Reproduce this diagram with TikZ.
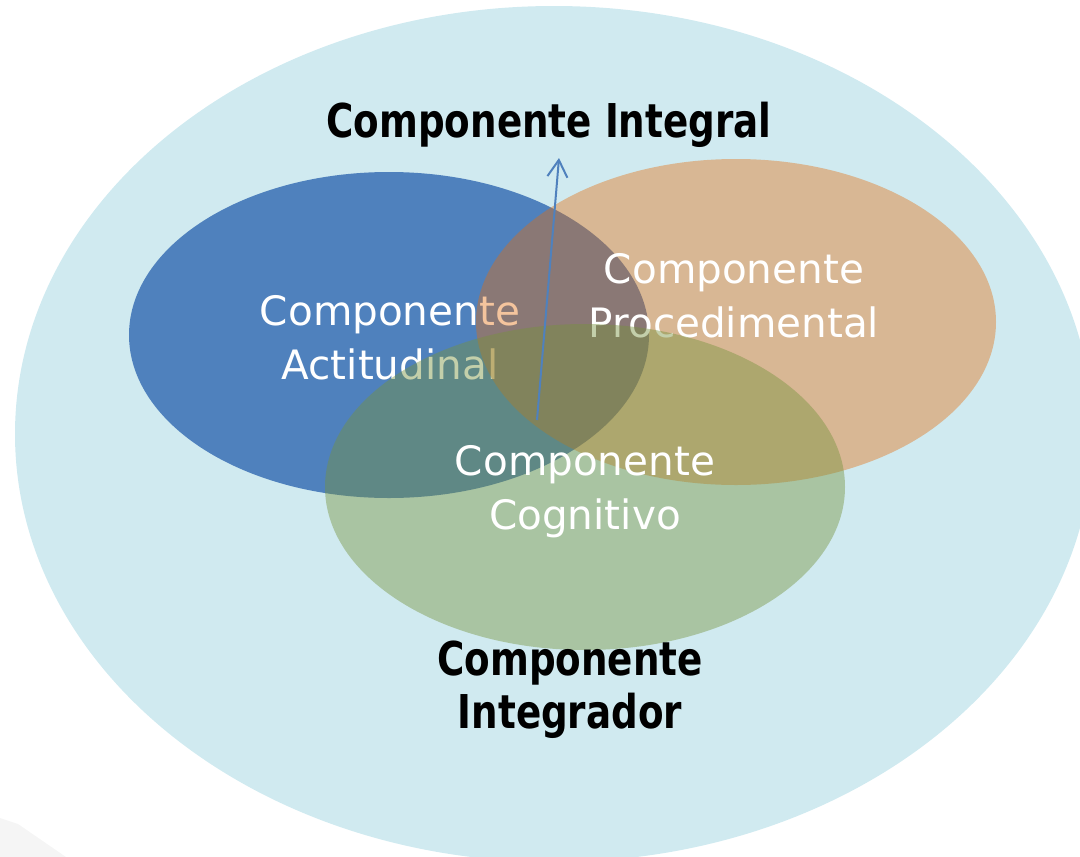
\documentclass[tikz,border=0pt]{standalone}
\usepackage{fontspec}
\setmainfont{DejaVu Sans}
\newfontfamily\titlefont[FakeStretch=0.8]{DejaVu Sans}
\usetikzlibrary{arrows.meta,shapes.geometric}

\definecolor{paleblue}{RGB}{208,234,240}
\definecolor{setblue}{RGB}{79,129,189}
\definecolor{setorange}{RGB}{228,108,10}
\definecolor{setgreen}{RGB}{118,146,60}

\begin{document}
\begin{tikzpicture}[x=1pt,y=-1pt,
    set/.style={ellipse,minimum width=520pt,minimum height=326pt,inner sep=0pt},
    inlabel/.style={text=white,align=center,font=\fontsize{40.5}{54}\selectfont},
    outlabel/.style={text=black,align=center,font=\titlefont\bfseries\fontsize{46.6}{53}\selectfont}]
  \clip (0,0) rectangle (1080,857);

  % background
  \fill[paleblue] (554,434) ellipse [x radius=539, y radius=428];
  \fill[black!4] (0,818) -- (18,824) -- (66,857) -- (0,857) -- cycle;

  \node[set,fill=setblue] (act) at (389,335) {};
  \node[inlabel] (actlbl) at (390,338) {Componente\\Actitudinal};

  \node[set,fill=setorange,fill opacity=0.4] (proc) at (736,322) {};
  \node[inlabel] (proclbl) at (734,296) {Componente\\Procedimental};

  \node[set,fill=setgreen,fill opacity=0.43] (cog) at (585,487) {};
  \node[inlabel] (coglbl) at (585,492) {Componente\\Cognitivo};

  \coordinate (core) at (537,420);
  \coordinate (tip) at (559,158);
  \draw[setblue,line width=2pt,-{Straight Barb[length=17pt,width=20pt]}] (core) -- (tip);

  \node[outlabel,anchor=base] (integral) at (549,137) {Componente Integral};
  \node[outlabel] (integrador) at (570,690) {Componente\\Integrador};
\end{tikzpicture}
\end{document}
